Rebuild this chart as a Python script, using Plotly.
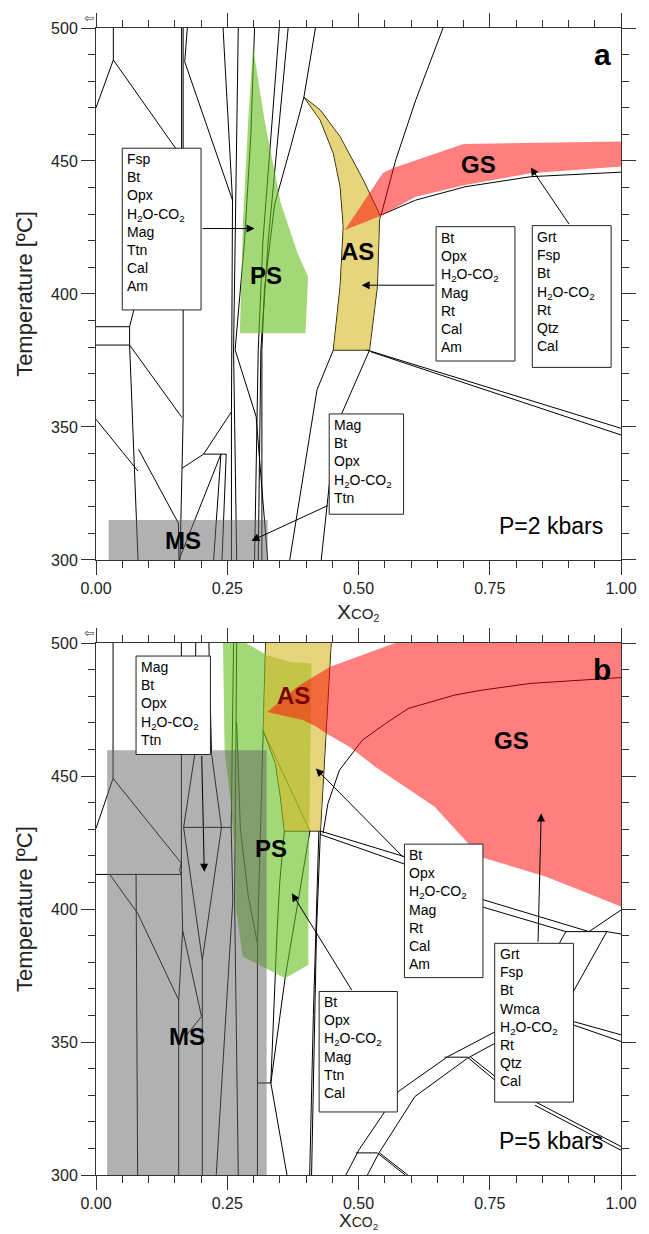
import plotly.graph_objects as go
from plotly.subplots import make_subplots

FONT = "Liberation Sans, Arial, sans-serif"

# ================= DATA : panel a (P = 2 kbar) =================
# phase boundaries, (XCO2, T)
A_BOUNDARIES = [
    [(0.033, 500), (0.033, 488)],
    [(0, 470), (0.033, 488), (0.163, 451.6)],
    [(0.163, 500), (0.163, 451.6)],
    [(0.166, 500), (0.166, 353.5), (0.160, 300)],
    [(0.174, 500), (0.169, 487.3), (0.260, 435.3)],
    [(0.242, 500), (0.260, 435.3), (0.258, 355.7), (0.258, 300)],
    [(0.271, 500), (0.262, 379), (0.268, 300)],
    [(0.265, 379), (0.305, 353.9), (0.327, 300)],
    [(0.072, 394), (0.064, 387.7), (0.064, 380.8), (0.080, 300)],
    [(0, 387.7), (0.064, 387.7)],
    [(0, 380.8), (0.064, 380.8)],
    [(0.064, 380.8), (0.164, 353.5)],
    [(0, 352.9), (0.080, 333.4)],
    [(0.081, 341.6), (0.157, 313.8), (0.158, 300)],
    [(0.164, 334.5), (0.205, 339.8), (0.258, 355.7)],
    [(0.205, 339.8), (0.248, 339.8)],
    [(0.158, 300), (0.238, 339.8)],
    [(0.224, 300), (0.238, 339.8)],
    [(0.240, 300), (0.248, 339.8)],
    [(0.302, 500), (0.295, 460), (0.283, 420), (0.265, 379)],
    [(0.349, 500), (0.333, 460), (0.318, 420), (0.309, 379), (0.302, 300)],
    [(0.366, 500), (0.347, 460), (0.328, 420), (0.314, 379), (0.309, 300)],
    [(0.418, 500), (0.396, 474), (0.371, 455.5), (0.340, 433.5), (0.321, 402), (0.316, 379), (0.316, 300)],
    [(0.452, 378.9), (0.421, 364), (0.369, 300)],
    [(0.521, 378.9), (0.468, 355), (0.446, 331.3), (0.429, 300)],
    [(0.515, 379), (1.0, 349.5)],
    [(0.523, 378.3), (1.0, 347)],
    [(0.543, 429.7), (0.571, 450.4), (0.609, 472.9), (0.661, 500)],
    [(0.543, 429.7), (0.609, 435.3), (0.703, 440.3), (0.828, 444.1), (1.0, 445.8)],
]
A_PS = [(0.299, 493), (0.321, 465.4), (0.352, 434.1), (0.384, 415.3), (0.404, 406.5),
        (0.399, 385.2), (0.274, 385.2), (0.280, 427.8), (0.290, 465.4), (0.299, 493)]
A_AS = [(0.396, 474), (0.427, 465.4), (0.452, 452.9), (0.465, 440.4), (0.471, 425.4),
        (0.465, 402.9), (0.452, 378.9), (0.521, 378.9), (0.536, 403.0), (0.540, 428),
        (0.542, 429.2), (0.509, 442.9), (0.465, 459.1), (0.427, 469.2), (0.396, 474)]
A_GS = [(0.474, 424.1), (0.546, 445.4), (0.565, 447.3), (0.700, 456.4), (1.0, 457.3),
        (1.0, 447.9), (0.828, 445.4), (0.703, 441.0), (0.609, 436.6), (0.543, 429.4),
        (0.474, 424.1)]
A_MS = [(0.024, 300), (0.024, 315), (0.327, 315), (0.327, 300), (0.024, 300)]

# ================= DATA : panel b (P = 5 kbar) =================
B_BOUNDARIES = [
    [(0.0325, 500), (0.0325, 449.1)],
    [(0, 430.3), (0.0325, 449.1), (0.1626, 417.2)],
    [(0, 413), (0.1626, 413)],
    [(0.1626, 417.2), (0.159, 414.5), (0.1626, 413)],
    [(0.026, 413), (0.0793, 398.4), (0.1575, 365.8)],
    [(0.0763, 413), (0.0793, 300)],
    [(0.1626, 500), (0.1626, 413), (0.165, 392), (0.1575, 365.8), (0.1575, 300)],
    [(0.19, 500), (0.188, 458), (0.1669, 430.7), (0.2025, 380.8), (0.2025, 300)],
    [(0.215, 500), (0.22, 458.5), (0.239, 430.7), (0.2025, 380.8)],
    [(0.1669, 430.7), (0.2575, 430.7)],
    [(0.165, 392), (0.201, 359.6), (0.17, 352)],
    [(0.229, 300), (0.2606, 403.4), (0.2575, 430.7), (0.262, 500)],
    [(0.271, 300), (0.264, 403.4), (0.268, 500)],
    [(0.268, 470), (0.275, 430), (0.29, 405), (0.3075, 387), (0.3075, 300)],
    [(0.3075, 334.6), (0.333, 334.6)],
    [(0.333, 334.6), (0.3638, 300)],
    [(0.3587, 429.3), (0.350, 410), (0.345, 392), (0.333, 334.6)],
    [(0.4075, 429.3), (0.376, 392), (0.3606, 374.6), (0.333, 334.6)],
    [(0.3182, 467.2), (0.4075, 429.3)],
    [(0.323, 500), (0.3182, 467.2), (0.311, 420), (0.3075, 387)],
    [(0.448, 500), (0.4275, 429.3), (0.42, 392), (0.4106, 300)],
    [(0.4245, 429.3), (0.414, 360), (0.407, 300)],
    [(0.3587, 429.3), (0.4275, 429.3)],
    [(0.3182, 467.2), (0.3418, 454.7), (0.3512, 442.2), (0.3587, 429.3)],
    [(0.4275, 429.3), (0.589, 419.6), (0.739, 403.4), (0.939, 391.5)],
    [(0.4275, 428), (0.589, 416.8), (0.739, 400.6), (0.895, 391.5)],
    [(0.895, 391.5), (0.973, 391.5)],
    [(0.939, 391.5), (1.0, 399.6)],
    [(0.973, 391.5), (1.0, 390.6)],
    [(0.973, 391.5), (0.9075, 368.4)],
    [(0.895, 391.5), (0.8826, 387.1)],
    [(0.476, 300), (0.501, 309.5), (0.576, 331.4), (0.670, 344.5), (0.7607, 353.9)],
    [(0.517, 300), (0.539, 308.3), (0.6075, 329.5), (0.7075, 343.9), (0.7607, 349.6)],
    [(0.9094, 357.7), (1.0, 352.7)],
    [(0.9094, 356.4), (1.0, 350.2)],
    [(0.664, 344.3), (0.7075, 344.3)],
    [(0.7075, 344.3), (0.7607, 335.5)],
    [(0.7135, 344.3), (0.7607, 337.0)],
    [(0.836, 327.6), (1.0, 310.7)],
    [(0.836, 326.2), (1.0, 309.3)],
    [(0.495, 308.3), (0.5357, 308.3)],
    [(0.5357, 308.3), (0.589, 300)],
    [(0.540, 308.3), (0.594, 300)],
    [(0.4325, 428.4), (0.4418, 439.7), (0.4637, 452.2), (0.5075, 463.5), (0.5513, 469.7),
     (0.595, 475.4), (0.6825, 480.4), (0.7326, 482.2), (0.8264, 484.8), (1.0, 487)],
]
B_PS = [(0.2419, 500), (0.2856, 500), (0.3263, 495.4), (0.370, 492.9), (0.4106, 492.3),
        (0.4045, 403.4), (0.4045, 379), (0.3606, 374), (0.2794, 382.1), (0.2669, 399.6),
        (0.265, 419.6), (0.2575, 438.4), (0.245, 459.7), (0.2419, 500)]
B_AS = [(0.323, 500), (0.448, 500), (0.4275, 429.3), (0.3587, 429.3), (0.3512, 442.2),
        (0.3418, 454.7), (0.3182, 467.2), (0.323, 500)]
B_GS = [(0.3263, 474.1), (0.3825, 483.5), (0.445, 491), (0.495, 494.7), (0.57, 500),
        (1.0, 500), (1.0, 400.9), (0.8575, 412.1), (0.7326, 419.6), (0.645, 438.4),
        (0.5325, 453.4), (0.4825, 461), (0.4388, 466), (0.42, 468.5), (0.395, 471),
        (0.3263, 474.1)]
B_MS = [(0.0212, 300), (0.0212, 459.7), (0.325, 459.7), (0.325, 300), (0.0212, 300)]

# ================= text =================
H2O = "H<sub>2</sub>O-CO<sub>2</sub>"
A_BOX_TEXT = [
    ["Fsp", "Bt", "Opx", H2O, "Mag", "Ttn", "Cal", "Am"],
    ["Bt", "Opx", H2O, "Mag", "Rt", "Cal", "Am"],
    ["Grt", "Fsp", "Bt", H2O, "Rt", "Qtz", "Cal"],
    ["Mag", "Bt", "Opx", H2O, "Ttn"],
]
B_BOX_TEXT = [
    ["Mag", "Bt", "Opx", H2O, "Ttn"],
    ["Bt", "Opx", H2O, "Mag", "Rt", "Cal", "Am"],
    ["Bt", "Opx", H2O, "Mag", "Ttn", "Cal"],
    ["Grt", "Fsp", "Bt", "Wmca", H2O, "Rt", "Qtz", "Cal"],
]
FIELD_NAMES = ["PS", "AS", "GS", "MS"]
PANEL_NAMES = ["a", "b"]
PRESSURES = ["P=2 kbars", "P=5 kbars"]
X_TITLES = ["X<span style='font-size:15px'>CO<sub>2</sub></span>",
            "X<span style='font-size:14px'>CO<sub>2</sub></span>"]
Y_TITLE = "Temperature [ºC]"
X_TICKS = [0, 0.25, 0.5, 0.75, 1.0]
Y_TICKS = [300, 350, 400, 450, 500]

# ================= layout constants =================
A_BOX_POS = [(0.05, 0.2001, 454.8, 394.0), (0.6478, 0.798, 425.3, 374.8),
             (0.831, 0.9812, 425.7, 372.4), (0.4442, 0.5858, 354.9, 317.2)]
A_ARROWS = [((0.2001, 424.6), (0.302, 424.6)), ((0.6478, 403.3), (0.506, 403.3)),
            ((0.903, 425.7), (0.828, 447.6)), ((0.4442, 320.7), (0.296, 307.2))]
A_LABEL_POS = [(0.324, 407), (0.499, 416), (0.728, 448.5), (0.165, 307.5)]
B_BOX_POS = [(0.0763, 0.218, 495.1, 458.1), (0.5875, 0.737, 424.4, 374.2),
             (0.425, 0.574, 369, 323.7), (0.7594, 0.9094, 387.1, 327.4)]
B_ARROWS = [((0.2013, 458.1), (0.2063, 414)), ((0.5875, 419), (0.4187, 452.8)),
            ((0.4888, 369), (0.3731, 405.9)), ((0.8419, 387.1), (0.848, 435.9))]
B_LABEL_POS = [(0.3325, 422.8), (0.376, 480.4), (0.792, 463.5), (0.173, 352)]
X_TITLE_POS = [(-0.098, "middle", 21), (-0.1095, "bottom", 19)]

GREEN = "rgba(100,190,30,0.6)"
YELLOW = "rgba(215,185,40,0.6)"
RED = "rgba(255,0,0,0.5)"
GREY = "rgba(100,100,100,0.5)"

fig = make_subplots(rows=2, cols=1)


def line_trace(segs, row):
    xs, ys = [], []
    for s in segs:
        xs += [p[0] for p in s] + [None]
        ys += [p[1] for p in s] + [None]
    fig.add_trace(go.Scatter(x=xs, y=ys, mode="lines", hoverinfo="skip",
                             line=dict(color="black", width=1)), row=row, col=1)


def fill_trace(poly, color, row):
    fig.add_trace(go.Scatter(x=[p[0] for p in poly], y=[p[1] for p in poly],
                             mode="lines", fill="toself", fillcolor=color,
                             line=dict(width=0), hoverinfo="skip"), row=row, col=1)


# panel a
line_trace(A_BOUNDARIES + [A_AS], 1)
fill_trace(A_MS, GREY, 1)
fill_trace(A_PS, GREEN, 1)
fill_trace(A_AS, YELLOW, 1)
fill_trace(A_GS, RED, 1)
# panel b
line_trace(B_BOUNDARIES, 2)
fill_trace(B_PS, GREEN, 2)
fill_trace(B_AS, YELLOW, 2)
fill_trace(B_MS, GREY, 2)
fill_trace(B_GS, RED, 2)

shapes, annots = [], []


def add_boxes(pos, texts, arrows, xr, yr):
    for (x0, x1, t0, t1), lines in zip(pos, texts):
        shapes.append(dict(type="rect", xref=xr, yref=yr, x0=x0, x1=x1, y0=t1, y1=t0,
                           line=dict(color="#222", width=1), fillcolor="white", layer="above"))
        annots.append(dict(xref=xr, yref=yr, x=x0, y=t0, xanchor="left", yanchor="top",
                           xshift=3, yshift=-1, showarrow=False, align="left",
                           text="<br>".join(lines),
                           font=dict(family=FONT, size=14, color="black")))
    for (tail, head) in arrows:
        annots.append(dict(xref=xr, yref=yr, axref=xr, ayref=yr, x=head[0], y=head[1],
                           ax=tail[0], ay=tail[1], text="", showarrow=True, arrowhead=2,
                           arrowsize=1.6, arrowwidth=1, arrowcolor="black", standoff=0))


add_boxes(A_BOX_POS, A_BOX_TEXT, A_ARROWS, "x", "y")
add_boxes(B_BOX_POS, B_BOX_TEXT, B_ARROWS, "x2", "y2")

for name, (x, y) in zip(FIELD_NAMES, A_LABEL_POS):
    annots.append(dict(xref="x", yref="y", x=x, y=y, text="<b>%s</b>" % name, showarrow=False,
                       font=dict(family=FONT, size=24, color="black")))
for name, (x, y) in zip(FIELD_NAMES, B_LABEL_POS):
    col = "#800000" if name == "AS" else "black"
    annots.append(dict(xref="x2", yref="y2", x=x, y=y, text="<b>%s</b>" % name, showarrow=False,
                       font=dict(family=FONT, size=24, color=col)))

for i, (xr, yr) in enumerate([("x", "y"), ("x2", "y2")]):
    annots.append(dict(xref=xr + " domain", yref=yr + " domain", x=0.985, y=0.985,
                       xanchor="right", yanchor="top", text="<b>%s</b>" % PANEL_NAMES[i],
                       showarrow=False, font=dict(family=FONT, size=30, color="black")))
    annots.append(dict(xref=xr + " domain", yref=yr + " domain", x=0.97, y=0.035,
                       xanchor="right", yanchor="bottom", text=PRESSURES[i],
                       showarrow=False, font=dict(family=FONT, size=23, color="black")))
    annots.append(dict(xref=xr + " domain", yref=yr + " domain", x=-0.014, y=1.018,
                       xanchor="center", yanchor="middle", text="⇦",
                       showarrow=False, font=dict(family="DejaVu Sans", size=12, color="#333")))
    ty, anch, fs = X_TITLE_POS[i]
    annots.append(dict(xref=xr + " domain", yref=yr + " domain", x=0.5, y=ty,
                       xanchor="center", yanchor=anch, text=X_TITLES[i],
                       showarrow=False, borderpad=0,
                       font=dict(family=FONT, size=fs, color="#222")))

axis_common = dict(showline=True, linecolor="#333", linewidth=1, mirror="ticks",
                   ticks="outside", ticklen=14, tickwidth=1, tickcolor="#333",
                   showgrid=False, zeroline=False,
                   tickfont=dict(family=FONT, size=16, color="#222"))
for r in (1, 2):
    fig.update_xaxes(range=[0, 1], tickvals=X_TICKS, ticktext=["%.2f" % v for v in X_TICKS],
                     minor=dict(dtick=0.05, tick0=0, ticks="outside", ticklen=7,
                                tickcolor="#333", showgrid=False),
                     row=r, col=1, **axis_common)
    fig.update_yaxes(range=[300, 500], tickvals=Y_TICKS,
                     minor=dict(dtick=10, tick0=300, ticks="outside", ticklen=7,
                                tickcolor="#333", showgrid=False),
                     title=dict(text=Y_TITLE,
                                font=dict(family=FONT, size=22, color="#222"), standoff=12),
                     row=r, col=1, **axis_common)

fig.update_layout(
    width=649, height=1234, showlegend=False,
    margin=dict(l=96, r=21, t=28, b=59),
    paper_bgcolor="white", plot_bgcolor="white",
    xaxis=dict(domain=[0, 1]), xaxis2=dict(domain=[0, 1]),
    yaxis=dict(domain=[0.5362, 1.0]), yaxis2=dict(domain=[0.0, 0.4638]),
    shapes=shapes, annotations=annots,
)

fig.write_html("out.html")
